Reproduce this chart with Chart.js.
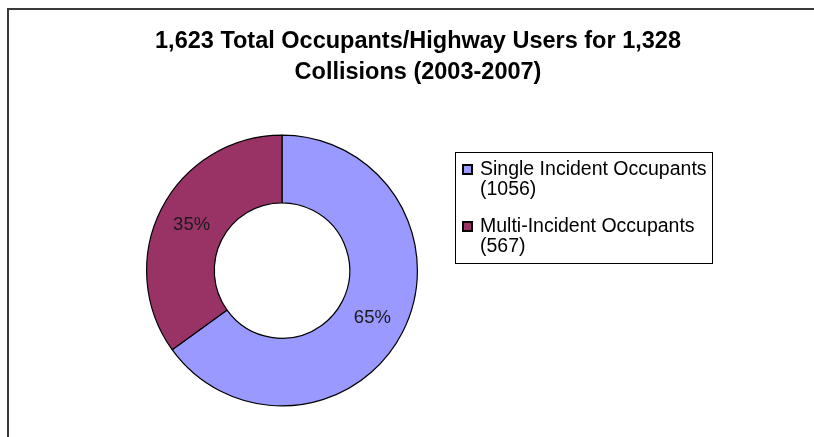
<!DOCTYPE html>
<html>
<head>
<meta charset="utf-8">
<script src="https://cdn.jsdelivr.net/npm/chart.js@4.4.1/dist/chart.umd.min.js"></script>
<style>
    html, body { margin: 0; padding: 0; background: #fff; }
    #wrap { width: 814px; height: 437px; }
</style>
</head>
<body>
<div id="wrap"><canvas id="occupants"></canvas></div>
<script>
const titleLines = ['1,623 Total Occupants/Highway Users for 1,328', 'Collisions (2003-2007)'];
const categories = ['Single Incident Occupants', 'Multi-Incident Occupants'];
const occupants = [1056, 567];
const sliceColors = ['#9999ff', '#993366'];

// frame, title, boxed legend and percent labels drawn on the canvas
const excelLook = {
    id: 'excelLook',
    beforeDraw(chart) {
        const ctx = chart.ctx;
        ctx.save();
        ctx.strokeStyle = '#3a3a3a';
        ctx.lineWidth = 2;
        ctx.beginPath();
        ctx.moveTo(8, 437);
        ctx.lineTo(8, 9);
        ctx.lineTo(814, 9);
        ctx.stroke();
        ctx.restore();
    },
    afterDatasetsDraw(chart) {
        const ctx = chart.ctx;
        const meta = chart.getDatasetMeta(0);
        const total = occupants.reduce((a, b) => a + b, 0);
        ctx.save();
        ctx.fillStyle = '#1a1a1a';
        ctx.font = '18.5px "Liberation Sans", Arial, sans-serif';
        ctx.textAlign = 'center';
        ctx.textBaseline = 'middle';
        meta.data.forEach((arc, i) => {
            const p = arc.tooltipPosition();
            ctx.fillText(Math.round(occupants[i] / total * 100) + '%', p.x, p.y + 1);
        });
        ctx.restore();
    },
    afterDraw(chart) {
        const ctx = chart.ctx;
        ctx.save();
        // title
        ctx.fillStyle = '#000';
        ctx.font = 'bold 23.5px "Liberation Sans", Arial, sans-serif';
        ctx.textAlign = 'center';
        ctx.textBaseline = 'alphabetic';
        titleLines.forEach((t, i) => ctx.fillText(t, 418, 47.5 + i * 31.5));

        // legend box
        ctx.strokeStyle = '#000';
        ctx.lineWidth = 1;
        ctx.strokeRect(455.5, 152.5, 257, 111);
        ctx.font = '19.5px "Liberation Sans", Arial, sans-serif';
        ctx.textAlign = 'left';
        categories.forEach((c, i) => {
            const base = 175 + i * 57;
            ctx.fillStyle = '#000';
            ctx.fillRect(462, base - 11, 11, 11);
            ctx.fillStyle = sliceColors[i];
            ctx.fillRect(464, base - 9, 7, 7);
            ctx.fillStyle = '#000';
            ctx.fillText(c, 480, base);
            ctx.fillText('(' + occupants[i] + ')', 480, base + 20);
        });
        ctx.restore();
    }
};

const occupantsCanvas = document.getElementById('occupants');
const occupantsChart = new Chart(occupantsCanvas, {
    type: 'doughnut',
    data: {
        labels: categories,
        datasets: [{
            data: occupants,
            backgroundColor: sliceColors,
            borderColor: '#000',
            borderWidth: 1.2,
        }]
    },
    options: {
        responsive: true,
        maintainAspectRatio: false,
        animation: false,
        cutout: '50%',
        layout: {
            padding: { top: 133, bottom: 29, left: 146, right: 396 }
        },
        plugins: {
            legend: { display: false },
            title: { display: false },
            tooltip: { enabled: false }
        }
    },
    plugins: [excelLook]
});
</script>
</body>
</html>
